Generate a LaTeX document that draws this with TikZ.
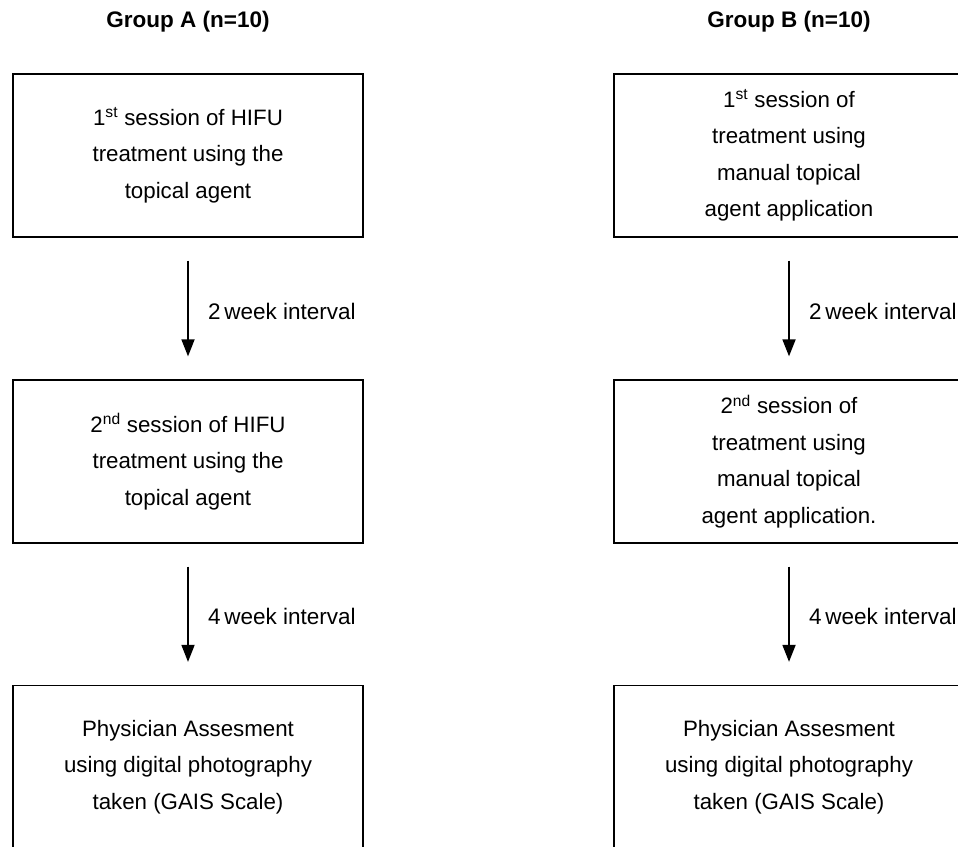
\documentclass[tikz,border=0pt]{standalone}
\usepackage{fontspec}
\setmainfont{Liberation Sans}
\usetikzlibrary{arrows.meta}
\begin{document}
\begin{tikzpicture}[x=1pt,y=-1pt,
  box/.style={draw, line width=1.3pt, minimum width=350pt, minimum height=163pt, inner sep=0pt,
    align=center, font=\fontsize{22.3}{36.5}\selectfont},
  title/.style={font=\fontsize{22.5}{26}\selectfont\bfseries},
  lbl/.style={anchor=west, inner sep=0pt, font=\fontsize{22.5}{26}\selectfont},
  flow/.style={line width=1.8pt, -{Triangle[width=13pt,length=17pt]}, shorten <=23pt, shorten >=23pt}]
\useasboundingbox (0,0) rectangle (958,846);
\clip (0,0) rectangle (958,846);
\node[title] (ta) at (188,22) {Group A (n=10)};
\node[title] (tb) at (789,22) {Group B (n=10)};
\node[box] (a1) at (188,155.5) {1\textsuperscript{st} session of HIFU\\treatment using the\\topical agent};
\node[box] (a2) at (188,461.5) {2\textsuperscript{nd} session of HIFU\\treatment using the\\topical agent};
\node[box] (a3) at (188,767) {Physician Assesment\\using digital photography\\taken (GAIS Scale)};
\node[box] (b1) at (789,155.5) {1\textsuperscript{st} session of\\treatment using\\manual topical\\agent application};
\node[box] (b2) at (789,461.5) {2\textsuperscript{nd} session of\\treatment using\\manual topical\\agent application.};
\node[box] (b3) at (789,767) {Physician Assesment\\using digital photography\\taken (GAIS Scale)};
\draw[flow] (a1) -- (a2);
\draw[flow] (a2) -- (a3);
\draw[flow] (b1) -- (b2);
\draw[flow] (b2) -- (b3);
\node[lbl] (la1) at (208,311) {2\,week interval};
\node[lbl] (la2) at (208,616) {4\,week interval};
\node[lbl] (lb1) at (809,311) {2\,week interval};
\node[lbl] (lb2) at (809,616) {4\,week interval};
\end{tikzpicture}
\end{document}
